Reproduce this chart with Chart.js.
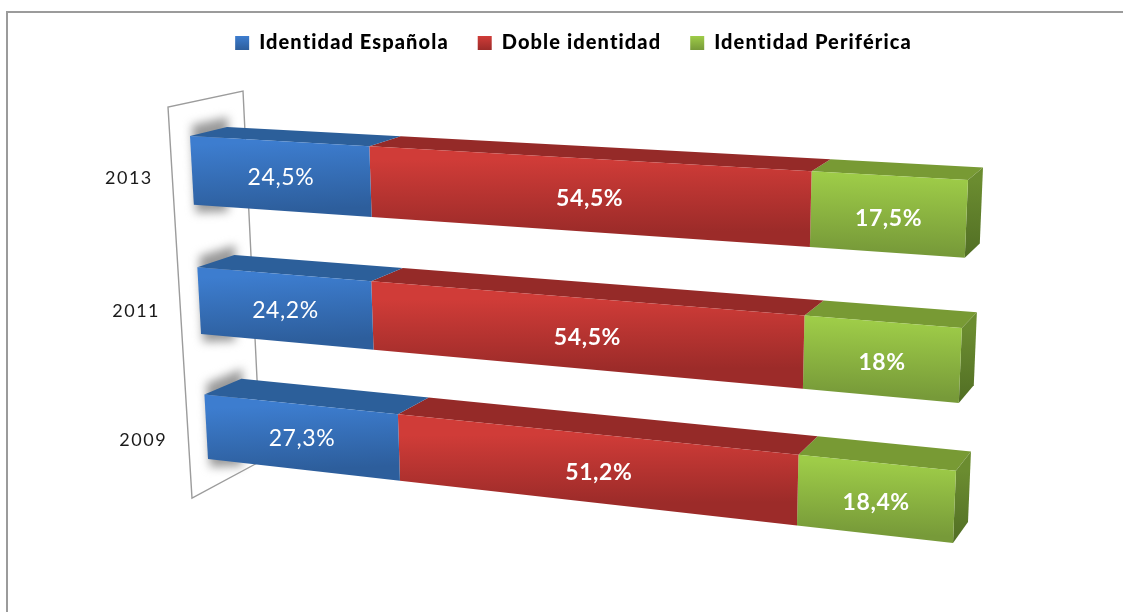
<!DOCTYPE html>
<html>
<head>
<meta charset="utf-8">
<script src="https://cdn.jsdelivr.net/npm/chart.js@4"></script>
<style>
html, body { margin: 0; padding: 0; background: #fff; overflow: hidden; }
canvas { display: block; }
</style>
</head>
<body>
<canvas id="chart" width="1123" height="612"></canvas>
<script>
const years = ['2013', '2011', '2009'];
const seriesNames = ['Identidad Española', 'Doble identidad', 'Identidad Periférica'];
const espanola = [24.5, 24.2, 27.3];
const doble = [54.5, 54.5, 51.2];
const periferica = [17.5, 18, 18.4];
const valueLabels = [
    ['24,5%', '24,2%', '27,3%'],
    ['54,5%', '54,5%', '51,2%'],
    ['17,5%', '18%', '18,4%']
];

// front / top / side shades per series
const shades = [
    { light: '#3d7dcf', dark: '#2d5e9c', top: '#2c5f9a', side: '#2c5f9a' },
    { light: '#d03c38', dark: '#9c2b29', top: '#952a28', side: '#952a28' },
    { light: '#9ecc48', dark: '#779a39', top: '#789a34', side: '#6b8c30', sideDark: '#516e24' }
];

// the original stacks to 100%, the values only add up to about 97
const totals = years.map((y, i) => espanola[i] + doble[i] + periferica[i]);
const share = arr => arr.map((v, i) => v / totals[i] * 100);

const barShare = 0.52;
const edge = (1 - barShare) / (2 * years.length);

// corners of the front plane of the 3d chart
const plane = [[190, 136], [968, 180], [953, 543], [208, 459]];

function homography(q) {
    const [[x0, y0], [x1, y1], [x2, y2], [x3, y3]] = q;
    const dx1 = x1 - x2, dx2 = x3 - x2, sx = x0 - x1 + x2 - x3;
    const dy1 = y1 - y2, dy2 = y3 - y2, sy = y0 - y1 + y2 - y3;
    const d = dx1 * dy2 - dx2 * dy1;
    const g = (sx * dy2 - dx2 * sy) / d;
    const h = (dx1 * sy - sx * dy1) / d;
    return (u, v) => {
        const w = g * u + h * v + 1;
        return [
            ((x1 - x0 + g * x1) * u + (x3 - x0 + h * x3) * v + x0) / w,
            ((y1 - y0 + g * y1) * u + (y3 - y0 + h * y3) * v + y0) / w
        ];
    };
}
const front = homography(plane);

function planeCoords(chart, px, py) {
    const a = chart.chartArea;
    const u = (px - a.left) / (a.right - a.left);
    const v = ((py - a.top) / (a.bottom - a.top) - edge) / (1 - 2 * edge);
    return [u, v];
}

function project(chart, px, py) {
    const [u, v] = planeCoords(chart, px, py);
    return front(u, v);
}

// depth offset of a front point, shrinks towards the right
function back(chart, px, py) {
    const [u, v] = planeCoords(chart, px, py);
    const p = front(u, v);
    return [p[0] + 37 - 22 * u, p[1] - 9 - 3.5 * u - 8.5 * v];
}

function poly(ctx, pts, fill) {
    ctx.beginPath();
    pts.forEach((p, i) => (i ? ctx.lineTo(p[0], p[1]) : ctx.moveTo(p[0], p[1])));
    ctx.closePath();
    ctx.fillStyle = fill;
    ctx.fill();
}

function grad(ctx, a, b, c1, c2) {
    const g = ctx.createLinearGradient(a[0], a[1], b[0], b[1]);
    g.addColorStop(0, c1);
    g.addColorStop(1, c2);
    return g;
}

function drawWall(ctx) {
    ctx.save();
    ctx.strokeStyle = '#9c9c9c';
    ctx.lineWidth = 1.4;
    ctx.beginPath();
    ctx.moveTo(261, 461);
    ctx.lineTo(243, 91);
    ctx.lineTo(168, 107);
    ctx.lineTo(192, 498);
    ctx.lineTo(261, 461);
    ctx.stroke();
    ctx.restore();
}

function drawShadows(chart) {
    const ctx = chart.ctx;
    const meta = chart.getDatasetMeta(0);
    ctx.save();
    ctx.filter = 'blur(5px)';
    meta.data.forEach(bar => {
        const top = bar.y - bar.height / 2, bottom = bar.y + bar.height / 2;
        const tl = project(chart, bar.base, top);
        const bl = project(chart, bar.base, bottom);
        const tb = back(chart, bar.base, top);
        poly(ctx, [
            [tl[0] + 2, tl[1] - 11],
            [tb[0] + 1, tb[1] - 10],
            [tb[0] + 1, bl[1] + 7],
            [bl[0] + 2, bl[1] + 8]
        ], '#999999');
    });
    ctx.restore();
}

function drawBar(chart, bar, s, isLast) {
    const ctx = chart.ctx;
    const top = bar.y - bar.height / 2, bottom = bar.y + bar.height / 2;
    const x0 = bar.base, x1 = bar.x;
    const tl = project(chart, x0, top), tr = project(chart, x1, top);
    const br = project(chart, x1, bottom), bl = project(chart, x0, bottom);
    const btl = back(chart, x0, top), btr = back(chart, x1, top), bbr = back(chart, x1, bottom);
    const midT = [(tl[0] + tr[0]) / 2, (tl[1] + tr[1]) / 2];
    const midB = [(bl[0] + br[0]) / 2, (bl[1] + br[1]) / 2];
    poly(ctx, [tl, btl, btr, tr], s.top);
    if (isLast) {
        poly(ctx, [tr, btr, bbr, br], grad(ctx, tr, br, s.side, s.sideDark || s.side));
    }
    poly(ctx, [tl, tr, br, bl], grad(ctx, midT, midB, s.light, s.dark));
}

// nudge of the value labels per series, they do not sit dead centre in the original
const labelNudge = [[1, 2], [7, 4], [1, 4]];

const cuboidPlugin = {
    id: 'cuboid',
    beforeLayout(chart) {
        chart.ctx.letterSpacing = '1.1px'; // legend text is wide in the original
    },
    beforeDraw(chart) {
        const ctx = chart.ctx;
        ctx.letterSpacing = '1.1px';
        // outer frame of the chart, cut off at the bottom and right
        ctx.save();
        ctx.strokeStyle = '#9b9b9b';
        ctx.lineWidth = 2;
        ctx.beginPath();
        ctx.moveTo(7, 612);
        ctx.lineTo(7, 12);
        ctx.lineTo(1123, 12);
        ctx.stroke();
        ctx.restore();
        drawWall(ctx);
        drawShadows(chart);
    },
    beforeDatasetDraw(chart, args) {
        const meta = chart.getDatasetMeta(args.index);
        meta.data.forEach(bar => {
            drawBar(chart, bar, shades[args.index], args.index === chart.data.datasets.length - 1);
        });
        return false; // own drawing replaces the flat bars
    },
    afterDatasetsDraw(chart) {
        const ctx = chart.ctx;
        ctx.save();
        ctx.textAlign = 'center';
        ctx.textBaseline = 'middle';
        chart.data.datasets.forEach((ds, d) => {
            chart.getDatasetMeta(d).data.forEach((bar, i) => {
                const p = project(chart, (bar.base + bar.x) / 2, bar.y);
                ctx.font = (d === 0 ? '400 ' : '700 ') + '23px Lato';
                ctx.letterSpacing = '0.6px';
                ctx.fillStyle = '#fff';
                ctx.fillText(valueLabels[d][i], p[0] + labelNudge[d][0], p[1] + labelNudge[d][1]);
            });
        });
        // year labels sit left of the wall
        const yScale = chart.scales.y;
        ctx.font = '400 18px Lato';
        ctx.letterSpacing = '1.5px';
        ctx.fillStyle = '#1a1a1a';
        years.forEach((y, i) => {
            const p = project(chart, chart.chartArea.left, yScale.getPixelForTick(i));
            ctx.fillText(y, p[0] - 63, p[1] + 8 + i * 2.5);
        });
        ctx.restore();
    }
};

const ctx = document.getElementById('chart').getContext('2d');
const legendGrad = color => {
    const g = ctx.createLinearGradient(0, 36, 0, 50);
    g.addColorStop(0, color.light);
    g.addColorStop(1, color.dark);
    return g;
};

new Chart(ctx, {
    type: 'bar',
    data: {
        labels: years,
        datasets: [
            { label: seriesNames[0], data: share(espanola), backgroundColor: shades[0].light },
            { label: seriesNames[1], data: share(doble), backgroundColor: shades[1].light },
            { label: seriesNames[2], data: share(periferica), backgroundColor: shades[2].light }
        ]
    },
    plugins: [cuboidPlugin],
    options: {
        indexAxis: 'y',
        responsive: false,
        animation: false,
        devicePixelRatio: 1,
        layout: { padding: { top: 4, left: 24, right: 0, bottom: 0 } },
        scales: {
            x: { stacked: true, min: 0, max: 100, display: false },
            y: { stacked: true, display: false }
        },
        datasets: { bar: { categoryPercentage: barShare, barPercentage: 1 } },
        plugins: {
            tooltip: { enabled: false },
            legend: {
                position: 'top',
                align: 'center',
                onClick: null,
                labels: {
                    boxWidth: 14,
                    boxHeight: 14,
                    padding: 29,
                    color: '#0d0d0d',
                    font: { family: 'Lato', size: 20, weight: '900' },
                    generateLabels(chart) {
                        return chart.data.datasets.map((ds, i) => ({
                            text: ds.label,
                            fillStyle: legendGrad(shades[i]),
                            strokeStyle: 'rgba(0,0,0,0)',
                            lineWidth: 0,
                            datasetIndex: i
                        }));
                    }
                }
            }
        }
    }
});
</script>
</body>
</html>
